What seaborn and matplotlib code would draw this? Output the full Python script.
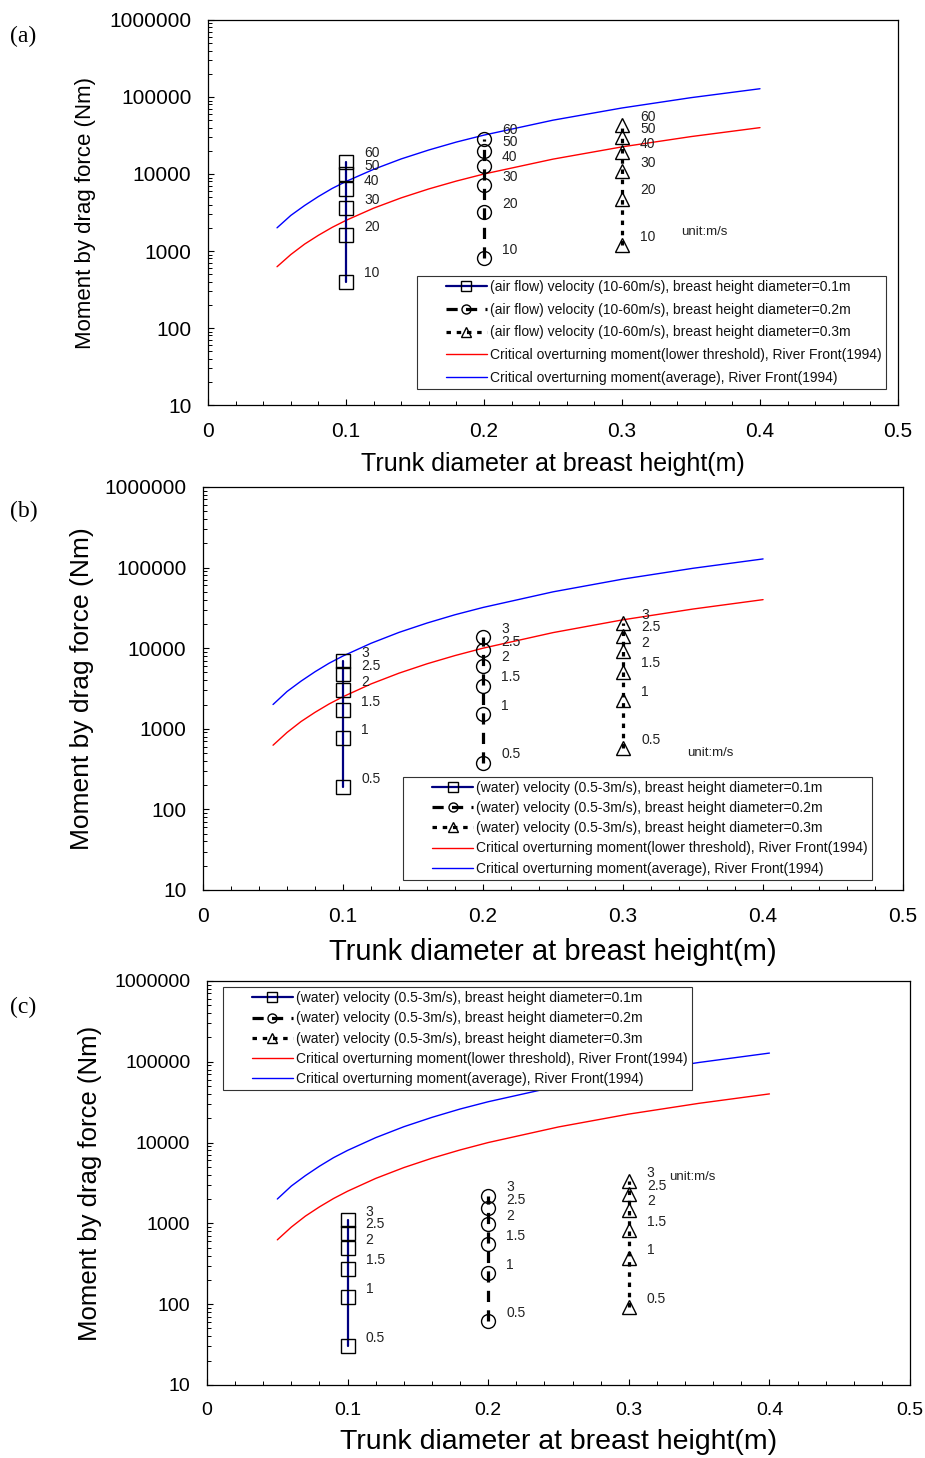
import numpy as np
import pandas as pd
import seaborn as sns
import matplotlib
matplotlib.use('Agg')
import matplotlib.pyplot as plt
from matplotlib.lines import Line2D
from matplotlib.legend_handler import HandlerLine2D
from matplotlib.ticker import LogLocator, NullFormatter, MultipleLocator


# critical overturning moment curves (River Front 1994)
curve_d = [0.05, 0.06, 0.07, 0.08, 0.09, 0.10, 0.12, 0.14, 0.16, 0.18, 0.20, 0.25, 0.30, 0.35, 0.40]
critical_avg = [2000, 2900, 3900, 5100, 6500, 8000, 11500, 15700, 20500, 26000, 32000, 50000, 72000, 98000, 128000]
critical_low = [625, 900, 1230, 1600, 2030, 2500, 3600, 4900, 6400, 8100, 10000, 15600, 22500, 30600, 40000]

# drag moments, panel (a) air flow
air_speeds = ['10', '20', '30', '40', '50', '60']
air_d01 = [400, 1600, 3600, 6400, 10000, 14400]
air_d02 = [800, 3200, 7200, 12800, 20000, 28800]
air_d03 = [1200, 4800, 10800, 19200, 30000, 43200]

# panel (b) water
water_speeds = ['0.5', '1', '1.5', '2', '2.5', '3']
water_b_d01 = [190, 760, 1710, 3040, 4750, 6840]
water_b_d02 = [380, 1520, 3420, 6080, 9500, 13700]
water_b_d03 = [570, 2280, 5130, 9120, 14300, 20500]

# panel (c) water
water_c_d01 = [30, 122, 275, 490, 765, 1100]
water_c_d02 = [61, 244, 550, 980, 1530, 2200]
water_c_d03 = [92, 368, 830, 1470, 2300, 3310]

diameters = [0.1, 0.2, 0.3]
y_ticks = [10, 100, 1000, 10000, 100000, 1000000]
x_ticks = [0, 0.1, 0.2, 0.3, 0.4, 0.5]
x_labels = ['0', '0.1', '0.2', '0.3', '0.4', '0.5']

sns.set_theme(style='white')
plt.rcParams['font.family'] = ['Liberation Sans', 'DejaVu Sans']


class PadHandler(HandlerLine2D):
    "legend handle with empty space on its left, like the original"
    def create_artists(self, legend, orig_handle, xdescent, ydescent, width, height, fontsize, trans):
        pad = 1.8 * fontsize
        arts = super().create_artists(legend, orig_handle, xdescent, ydescent, width - pad, height, fontsize, trans)
        for a in arts:
            a.set_xdata(np.asarray(a.get_xdata()) + pad)
        return arts


def draw_panel(ax, medium, vrange, series, speeds, unit_xy, leg_loc, leg_anchor,
               leg_space, tick_fs, ylab_fs, xlab_fs, ylab_x, xlab_y):
    sns.lineplot(x=curve_d, y=critical_low, ax=ax, color='#ff0000', lw=1,
                 estimator=None, sort=False,
                 label='Critical overturning moment(lower threshold), River Front(1994)')
    sns.lineplot(x=curve_d, y=critical_avg, ax=ax, color='#0000ff', lw=1,
                 estimator=None, sort=False,
                 label='Critical overturning moment(average), River Front(1994)')

    styles = [dict(color='#000080', lw=1.6, linestyle='-', marker='s'),
              dict(color='black', lw=2.3, linestyle=(0, (3.5, 2.6)), marker='o'),
              dict(color='black', lw=2.3, linestyle=(0, (1.4, 1.8)), marker='^')]
    for d, vals, st in zip(diameters, series, styles):
        df = pd.DataFrame({'d': [d] * len(vals), 'M': vals})
        sns.lineplot(data=df, x='d', y='M', ax=ax, estimator=None, sort=False,
                     markersize=10, markerfacecolor='none', markeredgecolor='black',
                     markeredgewidth=1.0,
                     label='%s velocity (%s), breast height diameter=%sm' % (medium, vrange, d),
                     **st)
        for v, s in zip(vals, speeds):
            ax.annotate(s, (d, v), xytext=(13, 6), textcoords='offset points',
                        fontsize=10, ha='left', va='center', color='#222222')

    ax.text(unit_xy[0], unit_xy[1], 'unit:m/s', fontsize=9.5, color='#222222',
            ha='left', va='center')

    ax.set_yscale('log')
    ax.set_ylim(10, 1000000)
    ax.set_xlim(0, 0.5)
    ax.set_yticks(y_ticks)
    ax.set_yticklabels([str(t) for t in y_ticks])
    ax.yaxis.set_minor_locator(LogLocator(base=10, subs=np.arange(2, 10)))
    ax.yaxis.set_minor_formatter(NullFormatter())
    ax.set_xticks(x_ticks)
    ax.set_xticklabels(x_labels)
    ax.xaxis.set_minor_locator(MultipleLocator(0.02))
    ax.tick_params(which='both', direction='in', left=True, bottom=True,
                   right=False, top=False, color='black', labelsize=tick_fs,
                   labelcolor='black')
    ax.tick_params(which='major', length=4.5, width=0.8, pad=12)
    ax.tick_params(which='minor', length=2.8, width=0.7)
    for sp in ax.spines.values():
        sp.set_visible(True)
        sp.set_color('black')
        sp.set_linewidth(0.9)

    ax.set_ylabel('Moment by drag force (Nm)', fontsize=ylab_fs, color='black')
    ax.set_xlabel('Trunk diameter at breast height(m)', fontsize=xlab_fs, color='black')
    ax.yaxis.set_label_coords(ylab_x, 0.5)
    ax.xaxis.set_label_coords(0.5, xlab_y)
    ax.yaxis.label.set_va('center')
    ax.xaxis.label.set_va('center')

    handles, labels = ax.get_legend_handles_labels()
    order = [2, 3, 4, 0, 1]
    leg = ax.legend([handles[i] for i in order], [labels[i] for i in order],
                    loc=leg_loc, bbox_to_anchor=leg_anchor, borderaxespad=0,
                    fontsize=10, handlelength=4.7, handletextpad=0.25,
                    labelspacing=leg_space, borderpad=0.3, markerscale=0.65,
                    fancybox=False, framealpha=1, edgecolor='#333333',
                    handler_map={Line2D: PadHandler()})
    leg.get_frame().set_linewidth(0.8)
    for t in leg.get_texts():
        t.set_color('#111111')


fig = plt.figure(figsize=(9.25, 14.58), dpi=100)
ax_a = fig.add_axes([0.2249, 0.7222, 0.7459, 0.2641])
ax_b = fig.add_axes([0.2195, 0.3896, 0.7568, 0.2764])
ax_c = fig.add_axes([0.2238, 0.0501, 0.7600, 0.2771])

draw_panel(ax_a, '(air flow)', '10-60m/s', [air_d01, air_d02, air_d03], air_speeds,
           (0.343, 1770), 'lower left', (0.303, 0.042), 0.62, 15, 16, 18, -0.178, -0.153)
draw_panel(ax_b, '(water)', '0.5-3m/s', [water_b_d01, water_b_d02, water_b_d03], water_speeds,
           (0.346, 500), 'lower left', (0.286, 0.025), 0.45, 15, 19, 21, -0.173, -0.154)
draw_panel(ax_c, '(water)', '0.5-3m/s', [water_c_d01, water_c_d02, water_c_d03], water_speeds,
           (0.329, 3750), 'upper left', (0.023, 0.985), 0.45, 14, 18.5, 20.5, -0.166, -0.141)

for lab, ypx in [('(a)', 36), ('(b)', 511), ('(c)', 1007)]:
    fig.text(0.011, 1 - ypx / 1458, lab, fontsize=17, family=['Liberation Serif', 'DejaVu Serif'],
             ha='left', va='center', color='black')

fig.savefig('out.png', dpi=100)
